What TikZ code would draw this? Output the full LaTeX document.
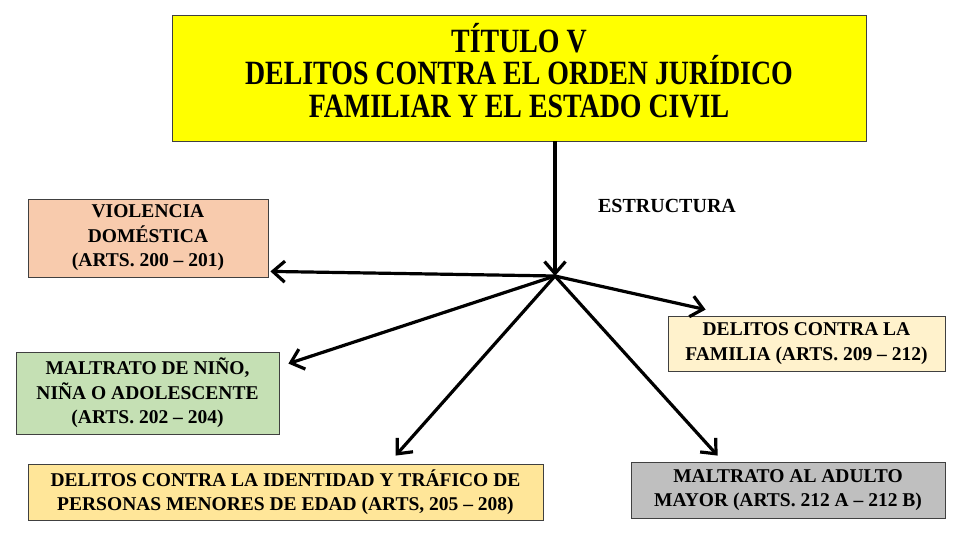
\documentclass[tikz,border=0pt]{standalone}
\usepackage{fontspec}
\setmainfont{Liberation Serif}
\newfontfamily\titlefont[FakeStretch=0.82]{Liberation Serif}
\usetikzlibrary{arrows.meta,calc,positioning}
\definecolor{amarillo}{HTML}{FFFF00}
\definecolor{durazno}{HTML}{F8CBAD}
\definecolor{verde}{HTML}{C5E0B4}
\definecolor{oro}{HTML}{FFE699}
\definecolor{crema}{HTML}{FFF2CC}
\definecolor{gris}{HTML}{BFBFBF}
\begin{document}
\begin{tikzpicture}[x=1pt,y=-1pt,
caja/.style={draw=black!75,line width=0.8pt,align=center,inner sep=0pt,
 font=\fontsize{19.5}{24.5}\selectfont\bfseries},
flecha/.style={line width=3.2pt,-{Straight Barb[length=12pt,width=21pt]}}]
\useasboundingbox[fill=white] (0,0) rectangle (960,540);
\node[caja,fill=amarillo,minimum width=694pt,minimum height=126pt,
 font=\titlefont\fontsize{34}{32.5}\selectfont\bfseries] (titulo) at (519,78)
 {TÍTULO V\\DELITOS CONTRA EL ORDEN JURÍDICO\\FAMILIAR Y EL ESTADO CIVIL\\[-17pt]};
\node[caja,fill=durazno,minimum width=240pt,minimum height=78pt] (violencia) at (148,238)
 {VIOLENCIA\\DOMÉSTICA\\(ARTS. 200 – 201)};
\node[caja,fill=verde,minimum width=263pt,minimum height=82pt] (maltrato) at (147.5,393)
 {MALTRATO DE NIÑO,\\NIÑA O ADOLESCENTE\\(ARTS. 202 – 204)};
\node[caja,fill=oro,minimum width=515pt,minimum height=56pt] (identidad) at (285.5,492)
 {DELITOS CONTRA LA IDENTIDAD Y TRÁFICO DE\\PERSONAS MENORES DE EDAD (ARTS, 205 – 208)};
\node[caja,fill=crema,minimum width=277pt,minimum height=55pt] (familia) at (806.5,343.5)
 {DELITOS CONTRA LA\\FAMILIA (ARTS. 209 – 212)};
\node[caja,fill=gris,minimum width=314pt,minimum height=56pt] (adulto) at (788,490)
 {MALTRATO AL ADULTO\\MAYOR (ARTS. 212 A – 212 B)};
\node[font=\fontsize{20}{22}\selectfont\bfseries] (estructura) at (667,206) {ESTRUCTURA};
\coordinate (hub) at (555,276);
\coordinate (pV) at ($(violencia.south east)+(2,-6)$);
\coordinate (pM) at ($(maltrato.north east)+(9,12)$);
\coordinate (pI) at ($(identidad.north west)+(368,-8)$);
\coordinate (pA) at ($(adulto.north west)+(87,-6)$);
\coordinate (pF) at ($(familia.north west)+(38,-6)$);
\draw[flecha] (titulo.south -| hub) -- (hub);
\draw[flecha] (hub) -- (pV);
\draw[flecha] (hub) -- (pM);
\draw[flecha] (hub) -- (pI);
\draw[flecha] (hub) -- (pA);
\draw[flecha] (hub) -- (pF);
\end{tikzpicture}
\end{document}
